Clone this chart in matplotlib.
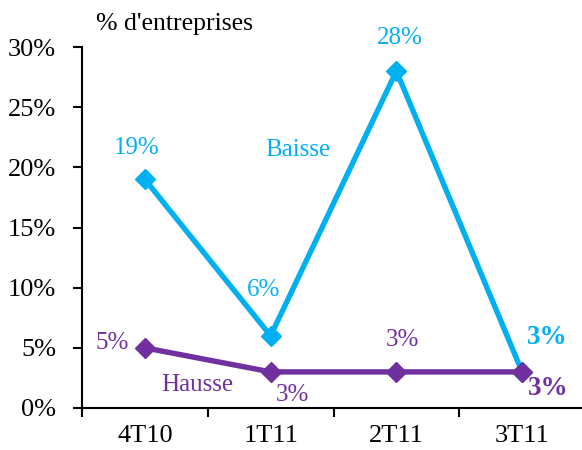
import matplotlib.pyplot as plt
from matplotlib.ticker import FixedLocator, FuncFormatter

plt.rcParams['font.family'] = ['Liberation Serif', 'DejaVu Serif']

quarters = ['4T10', '1T11', '2T11', '3T11']
baisse = [19, 6, 28, 3]
hausse = [5, 3, 3, 3]

cyan = '#00B0F0'
purple = '#7030A0'

fig = plt.figure(figsize=(5.82, 4.5), dpi=100)
ax = fig.add_axes([82 / 582, 42 / 450, 1 - 82 / 582, 361 / 450])

x = range(len(quarters))
ax.plot(x, baisse, color=cyan, lw=3.9, marker='D', ms=10.5, clip_on=False, zorder=3)
ax.plot(x, hausse, color=purple, lw=3.9, marker='D', ms=10.5, clip_on=False, zorder=3)

ax.set_xlim(-0.5, 3.476)
ax.set_ylim(0, 30)
ax.set_yticks(range(0, 31, 5))
ax.yaxis.set_major_formatter(FuncFormatter(lambda v, p: f'{v:.0f}%'))
ax.set_xticks(list(x))
ax.set_xticklabels(quarters)
ax.xaxis.set_minor_locator(FixedLocator([-0.5, 0.5, 1.5, 2.5]))
ax.tick_params(axis='x', which='major', length=0, labelsize=19, pad=12)
ax.tick_params(axis='x', which='minor', length=6.5, width=1.5)
ax.tick_params(axis='y', length=6.5, width=1.5, labelsize=19, pad=12)

for s in ['top', 'right']:
    ax.spines[s].set_visible(False)
for s in ['left', 'bottom']:
    ax.spines[s].set_linewidth(1.5)

fs = 18
# labels for Baisse
ax.text(-0.064, 21.6, '19%', color=cyan, fontsize=fs, ha='center', va='center')
ax.text(0.947, 9.8, '6%', color=cyan, fontsize=fs, ha='center', va='center')
ax.text(2.03, 30.75, '28%', color=cyan, fontsize=fs, ha='center', va='center', clip_on=False)
ax.text(3.2, 5.85, '3%', color=cyan, fontsize=19.5, ha='center', va='center', fontweight='bold')
ax.text(1.213, 21.45, 'Baisse', color=cyan, fontsize=fs, ha='center', va='center')

# labels for Hausse
ax.text(-0.263, 5.4, '5%', color=purple, fontsize=fs, ha='center', va='center')
ax.text(1.17, 1.1, '3%', color=purple, fontsize=fs, ha='center', va='center')
ax.text(2.05, 5.65, '3%', color=purple, fontsize=fs, ha='center', va='center')
ax.text(3.21, 1.66, '3%', color=purple, fontsize=19.5, ha='center', va='center', fontweight='bold')
ax.text(0.42, 1.91, 'Hausse', color=purple, fontsize=fs, ha='center', va='center')

fig.text(96 / 582, 1 - 24 / 450, "% d'entreprises", fontsize=18.5, ha='left', va='center')

fig.savefig('out.png', dpi=100)
